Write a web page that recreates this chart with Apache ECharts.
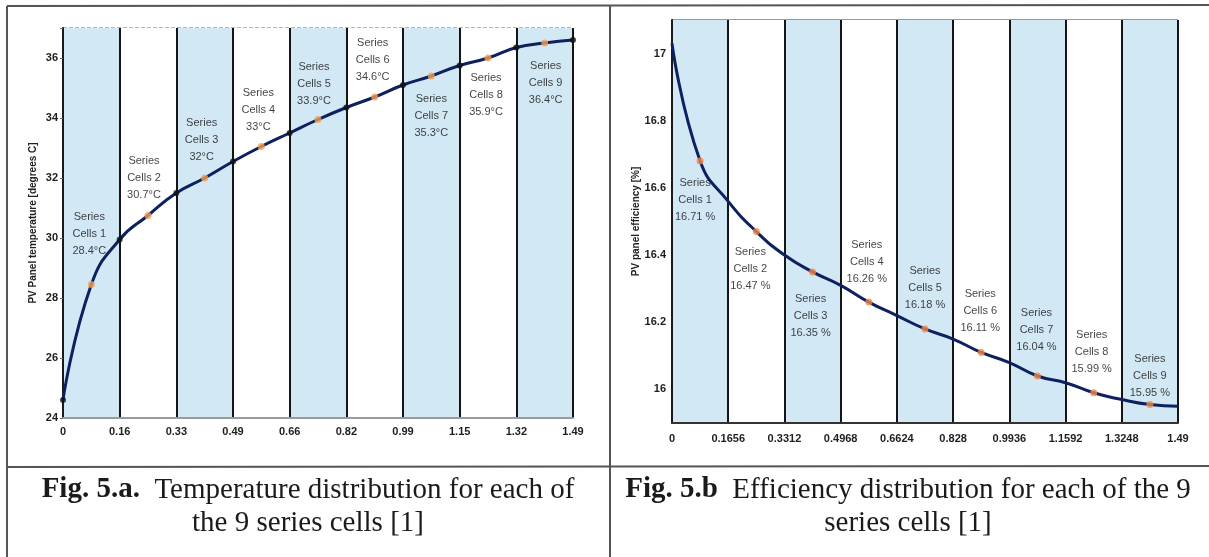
<!DOCTYPE html>
<html>
<head>
<meta charset="utf-8">
<script src="https://cdn.jsdelivr.net/npm/echarts@6.0.0/dist/echarts.min.js"></script>
<style>
html, body { margin: 0; padding: 0; background: #fff; }
#main { width: 1209px; height: 557px; }
</style>
</head>
<body>
<div id="main"></div>
<script>
// tick labels of the two x axes (position along the panel, 9 equal cells)
var tempTicks = ['0', '0.16', '0.33', '0.49', '0.66', '0.82', '0.99', '1.15', '1.32', '1.49'];
var effTicks = ['0', '0.1656', '0.3312', '0.4968', '0.6624', '0.828', '0.9936', '1.1592', '1.3248', '1.49'];

// x of cell borders and cell centres
var nodeX = [0, 0.1656, 0.3311, 0.4967, 0.6622, 0.8278, 0.9933, 1.1589, 1.3244, 1.49];
var cellX = [0.0828, 0.2483, 0.4139, 0.5794, 0.745, 0.9106, 1.0761, 1.2417, 1.4072];

// fig 5.a temperature
var tempNode = [24.6, 29.95, 31.5, 32.55, 33.5, 34.35, 35.1, 35.75, 36.35, 36.6];
var tempCell = [28.45, 30.75, 32.0, 33.05, 33.95, 34.7, 35.4, 36.0, 36.5];
var tempText = ['28.4', '30.7', '32', '33', '33.9', '34.6', '35.3', '35.9', '36.4'];

// fig 5.b efficiency
var effNode = [17.03, 16.56, 16.40, 16.31, 16.22, 16.15, 16.08, 16.02, 15.97, 15.95];
var effCell = [16.68, 16.47, 16.35, 16.26, 16.18, 16.11, 16.04, 15.99, 15.955];
var effText = ['16.71', '16.47', '16.35', '16.26', '16.18', '16.11', '16.04', '15.99', '15.95'];

// label placement of each cell (style only)
var tempLabelPos = [['top', 22, -2], ['top', 9, -4], ['top', 9, -3], ['top', 8, -3], ['top', 7, -4], ['top', 8, -2],
                    ['bottom', 11, 0], ['bottom', 8, -2], ['bottom', 11, 1]];
var effLabelPos = [['bottom', 10, -5], ['bottom', 8, -6], ['bottom', 15, -2], ['top', 11, -2], ['top', 12, 0],
                   ['top', 13, -1], ['top', 17, -1], ['top', 12, -2], ['top', 0, 0]];

var sans = "'Liberation Sans', Arial, sans-serif";
var serif = "'Liberation Serif', 'Times New Roman', serif";
var blue = '#d3e8f5';

function curve(nodes, cells) {
    var out = [];
    for (var i = 0; i < nodeX.length; i++) {
        out.push([nodeX[i], nodes[i]]);
        if (i < cellX.length) out.push([cellX[i], cells[i]]);
    }
    return out;
}

function cellData(cells, texts, unit, pos) {
    return cells.map(function (v, i) {
        return {
            value: [cellX[i], v],
            label: {
                position: pos[i][0],
                distance: pos[i][1],
                offset: [pos[i][2], 0],
                formatter: 'Series\nCells ' + (i + 1) + '\n' + texts[i] + unit
            }
        };
    });
}

var labelStyle = {
    show: true,
    color: '#111',
    fontFamily: sans,
    fontSize: 11,
    lineHeight: 17,
    align: 'center'
};

var myChart = echarts.init(document.getElementById('main'));

// cycled colours so only every second 0.1 line of fig 5.b is drawn
var effSplitColors = [];
for (var k = 0; k <= 12; k++) {
    effSplitColors.push(k === 12 ? '#9a9a9a' : (k % 2 === 1 ? '#4a4a4a' : 'rgba(0,0,0,0)'));
}

var tickFont = {color: '#1e1e1e', fontFamily: sans, fontWeight: 'bold', fontSize: 11};

myChart.setOption({
    backgroundColor: '#fff',
    animation: false,
    grid: [
        {left: 63, top: 28, width: 510, height: 390, outerBoundsMode: 'none', containLabel: false},
        {left: 672, top: 20, width: 506, height: 403, outerBoundsMode: 'none', containLabel: false}
    ],
    xAxis: [
        {
            type: 'category', gridIndex: 0, data: tempTicks, boundaryGap: false,
            axisLine: {lineStyle: {color: '#9a9a9a', width: 2}},
            axisTick: {show: false},
            axisLabel: Object.assign({interval: 0, margin: 8}, tickFont),
            splitLine: {show: true, interval: 0, lineStyle: {color: '#151515', width: 2}},
            splitArea: {show: true, interval: 0, areaStyle: {color: [blue, '#ffffff']}}
        },
        {type: 'value', gridIndex: 0, min: 0, max: 1.49, show: false},
        {
            type: 'category', gridIndex: 1, data: effTicks, boundaryGap: false,
            axisLine: {lineStyle: {color: '#333', width: 2}},
            axisTick: {show: false},
            axisLabel: Object.assign({interval: 0, margin: 10}, tickFont),
            splitLine: {show: true, interval: 0, lineStyle: {color: '#151515', width: 2}},
            splitArea: {show: true, interval: 0, areaStyle: {color: [blue, '#ffffff']}}
        },
        {type: 'value', gridIndex: 1, min: 0, max: 1.49, show: false}
    ],
    yAxis: [
        {
            type: 'value', gridIndex: 0, min: 24, max: 37, interval: 2,
            name: 'PV Panel temperature [degrees C]', nameLocation: 'middle', nameGap: 25, nameMoveOverlap: false,
            nameTextStyle: {color: '#222', fontFamily: sans, fontWeight: 'bold', fontSize: 10},
            axisLine: {show: true, lineStyle: {color: '#1a1a1a', width: 2}},
            axisTick: {show: true, length: 3, lineStyle: {color: '#666'}},
            axisLabel: Object.assign({
                margin: 5,
                formatter: function (v) { return v > 36.5 ? '' : String(v); }
            }, tickFont),
            splitLine: {show: true, lineStyle: {color: '#8ea4b8', width: 1.5, type: [4, 2]}}
        },
        {
            type: 'value', gridIndex: 1, min: 15.9, max: 17.1, interval: 0.1,
            name: 'PV panel efficiency [%]', nameLocation: 'middle', nameGap: 31, nameMoveOverlap: false,
            nameTextStyle: {color: '#222', fontFamily: sans, fontWeight: 'bold', fontSize: 10},
            axisLine: {show: true, lineStyle: {color: '#1a1a1a', width: 2}},
            axisTick: {show: false},
            axisLabel: Object.assign({
                margin: 6,
                formatter: function (v) {
                    var t = Math.round(v * 10);
                    return (t % 2 === 0 && t <= 170) ? String(t / 10) : '';
                }
            }, tickFont),
            splitLine: {show: true, lineStyle: {color: effSplitColors, width: 2}}
        }
    ],
    series: [
        {
            type: 'line', xAxisIndex: 1, yAxisIndex: 0, data: curve(tempNode, tempCell),
            smooth: 0.5, showSymbol: false,
            lineStyle: {color: '#0d2060', width: 3}, z: 3
        },
        {
            type: 'scatter', xAxisIndex: 1, yAxisIndex: 0,
            data: nodeX.map(function (x, i) { return [x, tempNode[i]]; }),
            symbolSize: 6, itemStyle: {color: '#111'}, z: 4
        },
        {
            type: 'scatter', xAxisIndex: 1, yAxisIndex: 0,
            data: cellData(tempCell, tempText, '°C', tempLabelPos),
            symbolSize: 7, itemStyle: {color: '#f2a052'}, label: labelStyle, z: 5
        },
        {
            type: 'line', xAxisIndex: 3, yAxisIndex: 1, data: curve(effNode, effCell),
            smooth: 0.5, showSymbol: false,
            lineStyle: {color: '#0d2060', width: 3}, z: 3
        },
        {
            type: 'scatter', xAxisIndex: 3, yAxisIndex: 1,
            data: cellData(effCell, effText, ' %', effLabelPos),
            symbolSize: 7, itemStyle: {color: '#f0884a'}, label: labelStyle, z: 5
        }
    ],
    graphic: [
        {type: 'line', shape: {x1: 7, y1: 6, x2: 1209, y2: 5}, style: {stroke: '#555', lineWidth: 2}},
        {type: 'line', shape: {x1: 7, y1: 6, x2: 7, y2: 557}, style: {stroke: '#555', lineWidth: 2}},
        {type: 'line', shape: {x1: 610, y1: 5, x2: 610, y2: 557}, style: {stroke: '#555', lineWidth: 2}},
        {type: 'line', shape: {x1: 7, y1: 467, x2: 1209, y2: 466}, style: {stroke: '#555', lineWidth: 2}},
        {
            type: 'text', x: 308, y: 490,
            style: {
                text: '{b|Fig. 5.a.}{n|  Temperature distribution for each of}',
                align: 'center', verticalAlign: 'middle',
                rich: {
                    b: {fontFamily: serif, fontSize: 29, fontWeight: 'bold', fill: '#1a1a1a'},
                    n: {fontFamily: serif, fontSize: 29, fill: '#1a1a1a'}
                }
            }
        },
        {
            type: 'text', x: 308, y: 523,
            style: {text: 'the 9 series cells [1]', align: 'center', verticalAlign: 'middle',
                    fontFamily: serif, fontSize: 29, fill: '#1a1a1a'}
        },
        {
            type: 'text', x: 908, y: 490,
            style: {
                text: '{b|Fig. 5.b}{n|  Efficiency distribution for each of the 9}',
                align: 'center', verticalAlign: 'middle',
                rich: {
                    b: {fontFamily: serif, fontSize: 29, fontWeight: 'bold', fill: '#1a1a1a'},
                    n: {fontFamily: serif, fontSize: 29, fill: '#1a1a1a'}
                }
            }
        },
        {
            type: 'text', x: 908, y: 523,
            style: {text: 'series cells [1]', align: 'center', verticalAlign: 'middle',
                    fontFamily: serif, fontSize: 29, fill: '#1a1a1a'}
        }
    ]
});
</script>
</body>
</html>
